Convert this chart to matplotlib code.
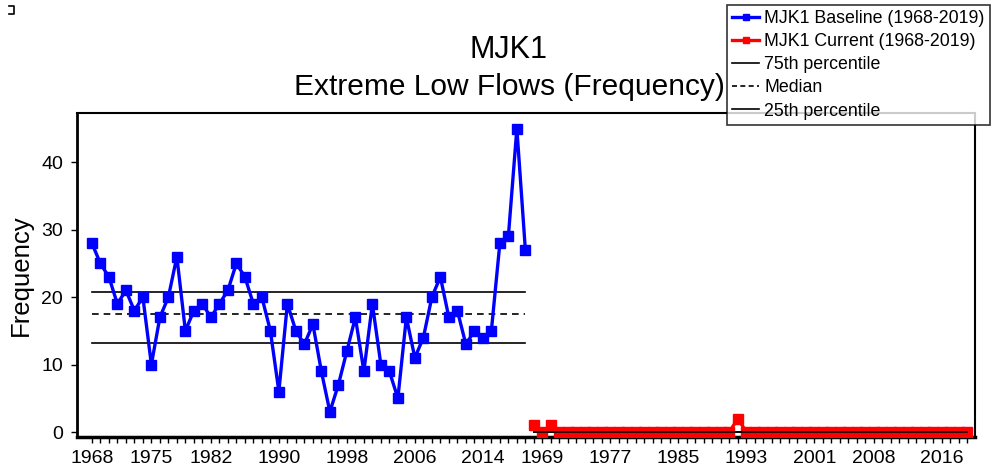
import matplotlib
matplotlib.use("Agg")
import matplotlib.pyplot as plt
from matplotlib.lines import Line2D
import numpy as np

plt.rcParams['font.family'] = ['Liberation Sans', 'DejaVu Sans']

years = list(range(1968, 2020))
baseline = [28, 25, 23, 19, 21, 18, 20, 10, 17, 20, 26, 15, 18, 19, 17, 19, 21, 25,
            23, 19, 20, 15, 6, 19, 15, 13, 16, 9, 3, 7, 12, 17, 9, 19, 10, 9, 5, 17,
            11, 14, 20, 23, 17, 18, 13, 15, 14, 15, 28, 29, 45, 27]
current = [1, 0, 1] + [0] * 21 + [2] + [0] * 27
baseline_pcts = {"p75": 20.75, "median": 17.5, "p25": 13.25}
current_pcts = {"p75": 0, "median": 0, "p25": 0}
tick_labels = ["1968", "1975", "1982", "1990", "1998", "2006", "2014",
               "1969", "1977", "1985", "1993", "2001", "2008", "2016"]
tick_index = [0, 7, 14, 22, 30, 38, 46, 53, 61, 69, 77, 85, 92, 100]

n = len(baseline)
xb = np.arange(n)
xc = np.arange(n, n + len(current))

fig = plt.figure(figsize=(9.94, 4.73), dpi=100)
ax = fig.add_axes([77/994, 1-437/473, (975-77)/994, (437-113)/473])

ax.plot(xb, baseline, color='#0000ff', lw=2.4, marker='s', ms=7, zorder=3,
        label='MJK1 Baseline (1968-2019)')
ax.plot(xc, current, color='#ff0000', lw=2.4, marker='s', ms=7, zorder=3,
        label='MJK1 Current (1968-2019)')

for x, p in ((xb, baseline_pcts), (xc, current_pcts)):
    ax.plot([x[0], x[-1]], [p["p75"]]*2, color='black', lw=1.2, zorder=2)
    ax.plot([x[0], x[-1]], [p["median"]]*2, color='black', lw=1.2, ls=(0, (4, 3)), zorder=2)
    ax.plot([x[0], x[-1]], [p["p25"]]*2, color='black', lw=1.2, zorder=2)
ax.plot([xc[0], xc[-1]], [current_pcts["median"]]*2, color='black', lw=1.2, zorder=4)

ax.set_xlim(-1.75, 103.9)
ax.set_ylim(-0.74, 47.3)
ax.set_yticks([0, 10, 20, 30, 40])
ax.set_xticks(tick_index)
ax.set_xticklabels(tick_labels)
ax.set_xticks(np.arange(0, 104), minor=True)
ax.tick_params(axis='both', which='both', direction='out', length=4, width=1,
               labelsize=14, colors='black')
ax.tick_params(axis='x', which='major', pad=5)
ax.tick_params(axis='y', which='major', pad=6)
ax.set_ylabel('Frequency', fontsize=18.5, labelpad=6)
for s in ax.spines.values():
    s.set_linewidth(1.5)
ax.spines['left'].set_linewidth(2)
ax.spines['bottom'].set_linewidth(2.5)

fig.text(509/994, 1-50/473, 'MJK1', ha='center', va='center', fontsize=22)
fig.text(509/994, 1-87/473, 'Extreme Low Flows (Frequency)', ha='center', va='center', fontsize=21.5)

handles = [
    Line2D([], [], color='#0000ff', lw=2.4, marker='s', ms=5),
    Line2D([], [], color='#ff0000', lw=2.4, marker='s', ms=5),
    Line2D([], [], color='black', lw=1.2),
    Line2D([], [], color='black', lw=1.2, ls=(0, (3, 2))),
    Line2D([], [], color='black', lw=1.2),
]
labels = ['MJK1 Baseline (1968-2019)', 'MJK1 Current (1968-2019)',
          '75th percentile', 'Median', '25th percentile']
leg = fig.legend(handles, labels, loc='upper right', bbox_to_anchor=(990/994, 1-5/473),
                 fontsize=12.8, frameon=True, fancybox=False, handlelength=1.5,
                 handletextpad=0.3, borderpad=0.3, labelspacing=0.34, borderaxespad=0)
leg.get_frame().set_edgecolor('black')
leg.get_frame().set_linewidth(1.2)

fig.add_artist(Line2D([9/994, 14/994, 14/994, 9/994],
                      [1-6/473, 1-6/473, 1-14/473, 1-14/473],
                      color='black', lw=1.2))

fig.savefig('out.png', dpi=100)
